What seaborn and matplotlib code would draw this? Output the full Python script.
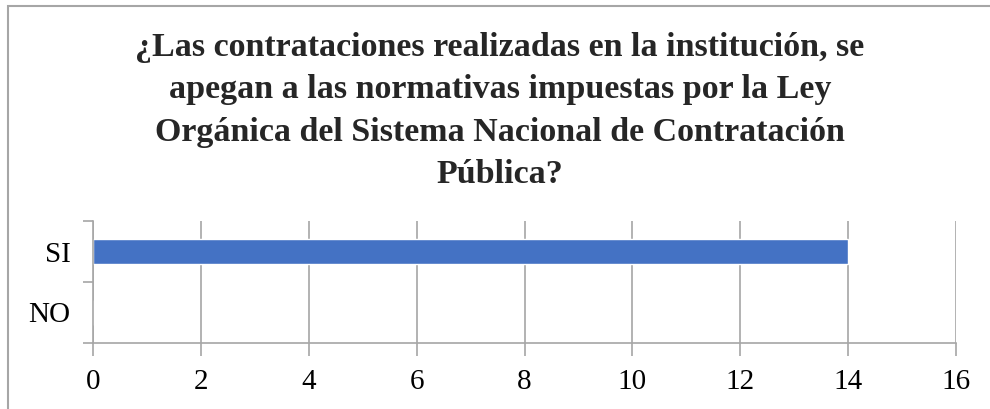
import matplotlib.pyplot as plt
import matplotlib.patches as mpatches
import seaborn as sns
import pandas as pd

# data
categories = ['SI', 'NO']
values = [14, 0]
title = ('¿Las contrataciones realizadas en la institución, se\n'
         'apegan a las normativas impuestas por la Ley\n'
         'Orgánica del Sistema Nacional de Contratación\n'
         'Pública?')

sns.set_theme(style="white")
plt.rcParams['font.family'] = ['Liberation Serif', 'DejaVu Serif']

df = pd.DataFrame({'Respuesta': categories, 'Cantidad': values})

fig = plt.figure(figsize=(9.9, 4.09), dpi=100)
ax = fig.add_axes([93 / 990, 1 - 343 / 409, (956 - 93) / 990, (343 - 221) / 409])

sns.barplot(data=df, x='Cantidad', y='Respuesta', order=categories,
            color='#4472C4', saturation=1, width=0.4, orient='h', ax=ax)

ax.set_xlim(0, 16)
ax.set_ylim(1.5, -0.5)
ax.set_xticks(range(0, 17, 2))
ax.set_xlabel('')
ax.set_ylabel('')

grid_c = '#a6a6a6'
ax.xaxis.grid(True, color=grid_c, linewidth=1.2)
ax.yaxis.grid(False)
ax.set_axisbelow(True)
for s in ['top', 'right']:
    ax.spines[s].set_visible(False)
for s in ['left', 'bottom']:
    ax.spines[s].set_color(grid_c)
    ax.spines[s].set_linewidth(1.2)

ax.tick_params(axis='x', which='major', length=9, color=grid_c, width=1.2,
               labelsize=21, labelcolor='black', pad=10, bottom=True)
ax.set_yticks([-0.5, 0.5, 1.5], minor=True)
ax.tick_params(axis='y', which='minor', length=7, color=grid_c, width=1.2, left=True)
ax.tick_params(axis='y', which='major', length=0, labelsize=21, labelcolor='black', pad=16)

fig.text(0.505, 1 - 111 / 409, title, ha='center', va='center',
         fontsize=24.5, fontweight='bold', linespacing=1.47)

# chart area frame (right and bottom edges fall outside the picture)
fig.patches.append(mpatches.Rectangle((8 / 990, -0.1), 1.2, 1.1 - 6 / 409,
                                      transform=fig.transFigure, fill=False,
                                      edgecolor='#a6a6a6', linewidth=1.5,
                                      clip_on=False))

fig.savefig('out.png', dpi=100)
plt.close(fig)
